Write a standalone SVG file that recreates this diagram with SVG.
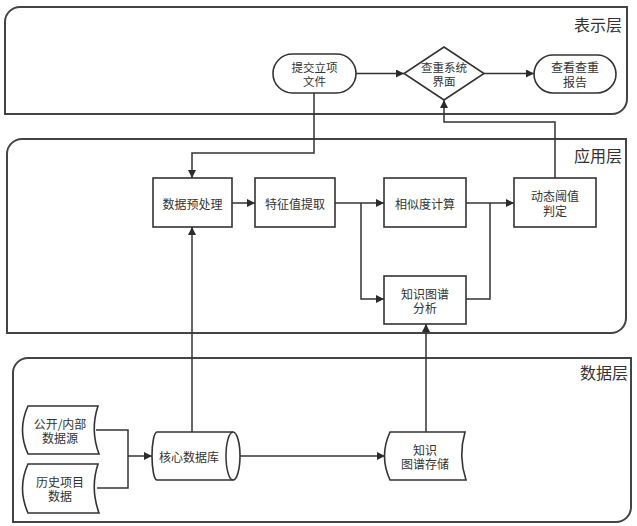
<svg xmlns="http://www.w3.org/2000/svg" width="637" height="526" viewBox="0 0 637 526">
<defs>
<marker id="arr" viewBox="0 0 10 10" refX="10" refY="5" markerWidth="8" markerHeight="8" markerUnits="userSpaceOnUse" orient="auto">
<path d="M0,0 L10,5 L0,10 Z" fill="#2b2b2b"/>
</marker>
<style>
.panel{fill:none;stroke:#444;stroke-width:2}
.shape{fill:#fff;stroke:#333;stroke-width:1.6}
.conn{fill:none;stroke:#333;stroke-width:1.5}
.t{font-family:"Noto Sans CJK SC","Noto Sans",sans-serif;font-size:12px;fill:#333;text-anchor:middle;dominant-baseline:central}
.s{font-size:11.5px}
.lbl{font-family:"Noto Sans CJK SC","Noto Sans",sans-serif;font-size:16px;fill:#333;text-anchor:end;dominant-baseline:central}
</style>
</defs>
<rect width="637" height="526" fill="#fff"/>

<g id="layer-presentation">
<path class="panel" d="M5,22 A15,15 0 0 1 20,7 L627,7 L627,99 A15,15 0 0 1 612,114 L5,114 Z"/>
<text class="lbl" x="622" y="24">表示层</text>
</g>
<g id="layer-application">
<path class="panel" d="M7,154 A15,15 0 0 1 22,139 L626,139 L626,318 A15,15 0 0 1 611,333 L7,333 Z"/>
<text class="lbl" x="622" y="155">应用层</text>
</g>
<g id="layer-data">
<path class="panel" d="M13,373 A15,15 0 0 1 28,358 L631,358 L631,507 A15,15 0 0 1 616,522 L13,522 Z"/>
<text class="lbl" x="628" y="372">数据层</text>
</g>

<g id="connectors">
<path class="conn" d="M356,73.5 L404,73.5" marker-end="url(#arr)"/>
<path class="conn" d="M484,73.5 L534,73.5" marker-end="url(#arr)"/>
<path class="conn" d="M314,93 L314,153 L192,153 L192,178" marker-end="url(#arr)"/>
<path class="conn" d="M555,178 L555,122 L444,122 L444,100" marker-end="url(#arr)"/>
<path class="conn" d="M232,203 L255,203" marker-end="url(#arr)"/>
<path class="conn" d="M335,203 L384,203" marker-end="url(#arr)"/>
<path class="conn" d="M361,203 L361,299 L384,299" marker-end="url(#arr)"/>
<path class="conn" d="M466,203 L514,203" marker-end="url(#arr)"/>
<path class="conn" d="M466,299 L490,299 L490,203"/>
<path class="conn" d="M96,430 L128,430 L128,488 L97,488"/>
<path class="conn" d="M128,456 L152,456" marker-end="url(#arr)"/>
<path class="conn" d="M240,456 L385,456" marker-end="url(#arr)"/>
<path class="conn" d="M192,432 L192,227" marker-end="url(#arr)"/>
<path class="conn" d="M426,432 L426,324" marker-end="url(#arr)"/>
</g>

<g id="submit">
<rect class="shape" x="273" y="54" width="83" height="39" rx="19.5"/>
<text class="t s" x="314.5" y="66.5">提交立项<tspan x="314.5" dy="14">文件</tspan></text>
</g>
<g id="check-ui">
<path class="shape" d="M444,47 L484,73.5 L444,100 L404,73.5 Z"/>
<text class="t s" x="444" y="67">查重系统<tspan x="444" dy="14">界面</tspan></text>
</g>
<g id="report">
<rect class="shape" x="534" y="55" width="82" height="38" rx="19"/>
<text class="t" x="575" y="66.5">查看查重<tspan x="575" dy="14">报告</tspan></text>
</g>

<g id="preprocess">
<rect class="shape" x="153" y="178" width="79" height="49"/>
<text class="t" x="192.5" y="203">数据预处理</text>
</g>
<g id="feature">
<rect class="shape" x="255" y="178" width="80" height="49"/>
<text class="t" x="295" y="203">特征值提取</text>
</g>
<g id="similarity">
<rect class="shape" x="384" y="178" width="82" height="49"/>
<text class="t" x="425" y="203">相似度计算</text>
</g>
<g id="threshold">
<rect class="shape" x="514" y="178" width="82" height="49"/>
<text class="t" x="555" y="195.5">动态阈值<tspan x="555" dy="14">判定</tspan></text>
</g>
<g id="kg-analysis">
<rect class="shape" x="384" y="276" width="82" height="48"/>
<text class="t" x="425" y="293">知识图谱<tspan x="425" dy="14">分析</tspan></text>
</g>

<g id="source-public">
<path class="shape" d="M28,406 L98,406 Q90,430 99,454 L28,454 Q17,430 28,406 Z"/>
<text class="t" x="60" y="423">公开/内部<tspan x="60" dy="14">数据源</tspan></text>
</g>
<g id="source-history">
<path class="shape" d="M28,464 L98,464 Q90,488 99,513 L28,513 Q17,488 28,464 Z"/>
<text class="t" x="60" y="481">历史项目<tspan x="60" dy="14">数据</tspan></text>
</g>
<g id="core-db">
<path class="shape" d="M157,432 L233,432 A7,24 0 0 1 233,480 L157,480 A5,24 0 0 1 157,432 Z"/>
<path class="conn" d="M233,432 A7,24 0 0 0 233,480"/>
<text class="t" x="189" y="456">核心数据库</text>
</g>
<g id="kg-store">
<path class="shape" d="M390,432 L465,432 Q458,456 466,480 L390,480 Q379,456 390,432 Z"/>
<text class="t" x="425" y="449">知识<tspan x="425" dy="14">图谱存储</tspan></text>
</g>
</svg>
